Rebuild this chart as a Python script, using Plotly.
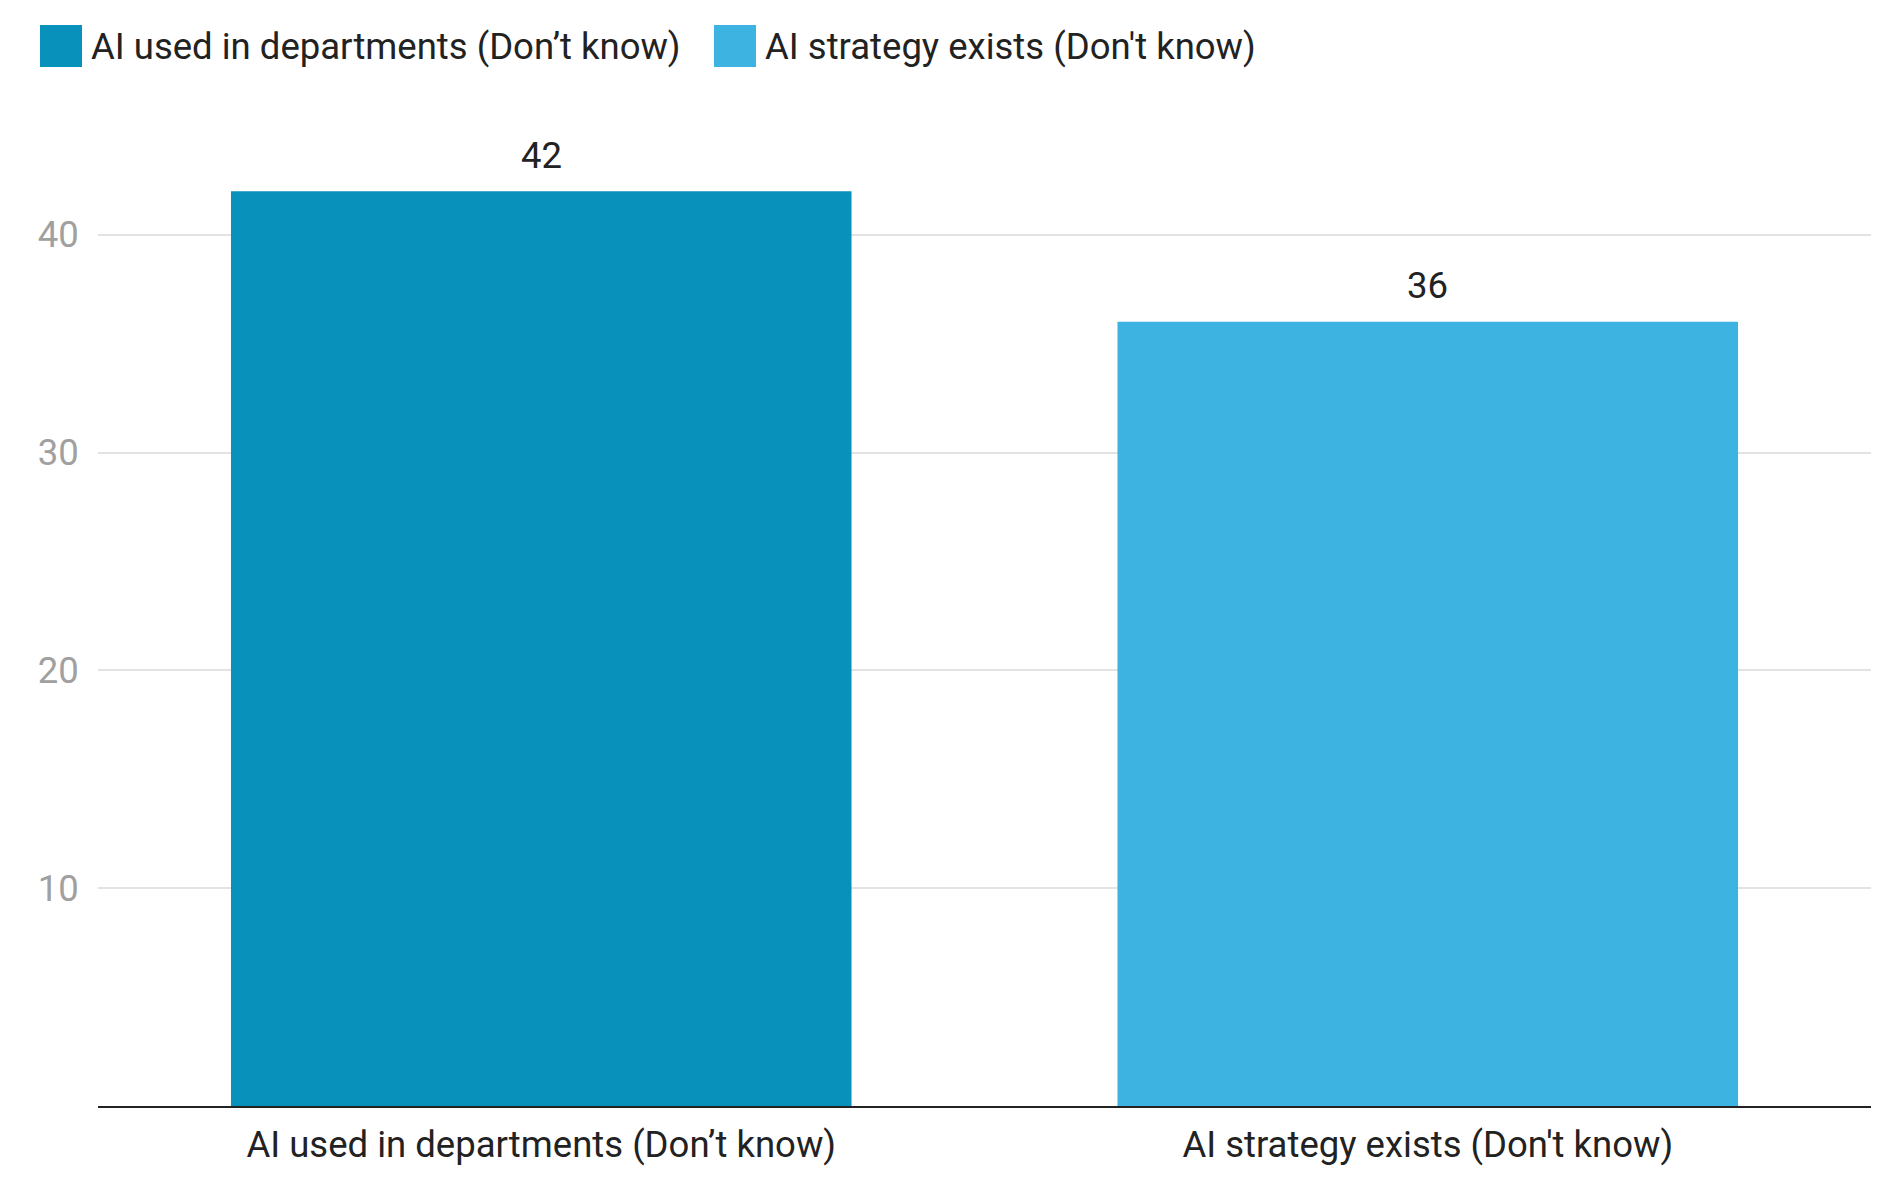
import plotly.graph_objects as go

categories = ["AI used in departments (Don’t know)", "AI strategy exists (Don't know)"]
values = [42, 36]
colors = ["#0891BB", "#3CB3E0"]
y_ticks = [10, 20, 30, 40]

FONT = "Roboto"
FS = 36.5
W, H = 1883, 1178

fig = go.Figure()
for cat, val, col in zip(categories, values, colors):
    fig.add_trace(go.Bar(
        x=[cat], y=[val], name=cat, marker=dict(color=col, line=dict(width=0)),
        showlegend=False, width=0.7,
    ))
    fig.add_annotation(x=cat, y=val, text=str(val), showarrow=False,
                       xanchor="center", yanchor="middle", yshift=36,
                       font=dict(family=FONT, size=FS, color="#222222"))

# manual legend (large square swatches)
leg_x = [40, 714]
for i, (cat, col) in enumerate(zip(categories, colors)):
    x0 = leg_x[i]
    fig.add_shape(type="rect", xref="paper", yref="paper",
                  x0=(x0 - 98) / (W - 110), x1=(x0 + 42 - 98) / (W - 110),
                  y0=(1106 - 67) / 1002, y1=(1106 - 25) / 1002,
                  fillcolor=col, line=dict(width=0), layer="above")
    fig.add_annotation(xref="paper", yref="paper",
                       x=(x0 + 49 - 98) / (W - 110), y=(1106 - 46) / 1002,
                       xanchor="left", yanchor="middle", showarrow=False,
                       text=cat, font=dict(family=FONT, size=FS, color="#222222"))

fig.update_layout(
    width=W, height=H,
    margin=dict(l=98, r=12, t=104, b=72),
    paper_bgcolor="white", plot_bgcolor="white",
    bargap=0.3,
    font=dict(family=FONT, size=FS),
    xaxis=dict(showgrid=False, showline=True, linecolor="#222222", linewidth=2,
               ticks="outside", ticklen=5, tickcolor="rgba(0,0,0,0)",
               tickfont=dict(family=FONT, size=FS, color="#222222")),
    yaxis=dict(range=[0, 46], tickvals=y_ticks, showgrid=True, gridcolor="#E3E3E3",
               gridwidth=2, zeroline=False, showline=False,
               ticks="outside", ticklen=11, tickcolor="rgba(0,0,0,0)",
               tickfont=dict(family=FONT, size=FS, color="#A0A0A0")),
)

fig.write_html("out.html")
